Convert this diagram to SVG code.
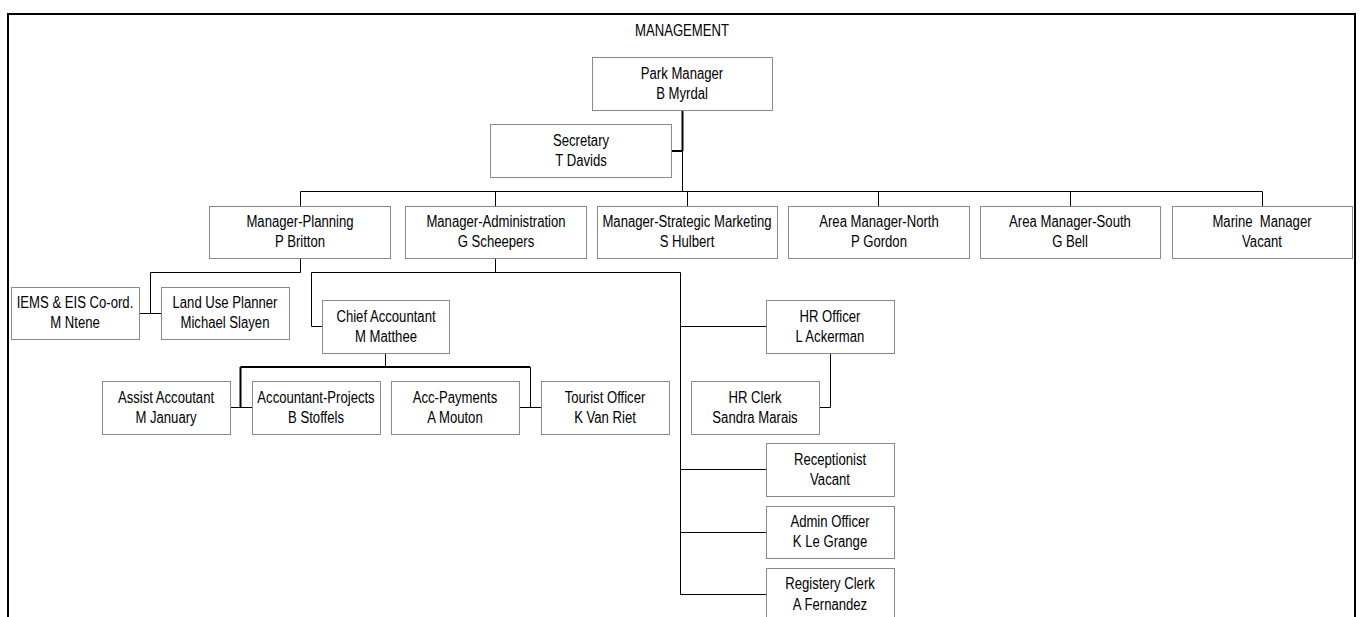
<svg xmlns="http://www.w3.org/2000/svg" width="1361" height="617" viewBox="0 0 1361 617">
<style>
.box{fill:#fff;stroke:#8a8a8a;stroke-width:1}
.t{font-family:"Liberation Sans",Arial,sans-serif;font-size:16px;fill:#000;text-anchor:middle}
.c{fill:none;stroke:#000;stroke-width:1}
.c2{fill:none;stroke:#000;stroke-width:2}
</style>
<rect x="0" y="0" width="1361" height="617" fill="#fff"/>
<rect x="8" y="14" width="1347" height="620" fill="none" stroke="#000" stroke-width="2"/>
<text class="t" transform="translate(682,36) scale(0.82,1)">MANAGEMENT</text>

<g id="connectors">
<path class="c2" d="M682.5,110 V151"/>
<path class="c" d="M682.5,151 V191.5"/>
<path class="c2" stroke="#333" d="M671,151 H682.5"/>
<path class="c" d="M300.5,191.5 H1262.5 M300.5,191.5 V206 M495.5,191.5 V206 M687.5,191.5 V206 M878.5,191.5 V206 M1070.5,191.5 V206 M1262.5,191.5 V206"/>
<path class="c" d="M300.5,258 V272.5 H150.5 V313.5 M139,313.5 H161"/>
<path class="c" d="M495.5,258 V272.5 M311.5,272.5 H680.5 M311.5,272.5 V326.5 H322 M680.5,272.5 V594.5 M680.5,326.5 H766 M680.5,469.5 H766 M680.5,532.5 H766 M680.5,594.5 H766"/>
<path class="c" d="M830.5,353 V407.5 H819"/>
<path class="c" d="M385.5,353 V367"/>
<path class="c2" d="M240.5,367 H530 M240.5,367 V407.5"/>
<path class="c" d="M530.5,367 V407.5 M230,407.5 H252 M519,407.5 H541"/>
</g>

<g id="park-manager"><rect class="box" x="592.5" y="57.5" width="180" height="53"/><text class="t" transform="translate(682,84) scale(0.82,1)"><tspan x="0" y="-5.3">Park Manager</tspan><tspan x="0" y="15.3">B Myrdal</tspan></text></g>
<g id="secretary"><rect class="box" x="490.5" y="124.5" width="181" height="53"/><text class="t" transform="translate(581,151) scale(0.82,1)"><tspan x="0" y="-5.3">Secretary</tspan><tspan x="0" y="15.3">T Davids</tspan></text></g>
<g id="manager-planning"><rect class="box" x="209.5" y="206.5" width="181" height="52"/><text class="t" transform="translate(300,232) scale(0.82,1)"><tspan x="0" y="-5.3">Manager-Planning</tspan><tspan x="0" y="15.3">P Britton</tspan></text></g>
<g id="manager-administration"><rect class="box" x="405.5" y="206.5" width="181" height="52"/><text class="t" transform="translate(496,232) scale(0.82,1)"><tspan x="0" y="-5.3">Manager-Administration</tspan><tspan x="0" y="15.3">G Scheepers</tspan></text></g>
<g id="manager-strategic-marketing"><rect class="box" x="597.5" y="206.5" width="180" height="52"/><text class="t" transform="translate(687,232) scale(0.82,1)"><tspan x="0" y="-5.3">Manager-Strategic Marketing</tspan><tspan x="0" y="15.3">S Hulbert</tspan></text></g>
<g id="area-manager-north"><rect class="box" x="788.5" y="206.5" width="181" height="52"/><text class="t" transform="translate(879,232) scale(0.82,1)"><tspan x="0" y="-5.3">Area Manager-North</tspan><tspan x="0" y="15.3">P Gordon</tspan></text></g>
<g id="area-manager-south"><rect class="box" x="980.5" y="206.5" width="180" height="52"/><text class="t" transform="translate(1070,232) scale(0.82,1)"><tspan x="0" y="-5.3">Area Manager-South</tspan><tspan x="0" y="15.3">G Bell</tspan></text></g>
<g id="marine-manager"><rect class="box" x="1172.5" y="206.5" width="180" height="52"/><text class="t" xml:space="preserve" transform="translate(1262,232) scale(0.82,1)"><tspan x="0" y="-5.3">Marine  Manager</tspan><tspan x="0" y="15.3">Vacant</tspan></text></g>
<g id="iems-eis"><rect class="box" x="11.5" y="287.5" width="128" height="52"/><text class="t" transform="translate(75,313) scale(0.82,1)"><tspan x="0" y="-5.3">IEMS &amp; EIS Co-ord.</tspan><tspan x="0" y="15.3">M Ntene</tspan></text></g>
<g id="land-use-planner"><rect class="box" x="161.5" y="287.5" width="128" height="52"/><text class="t" transform="translate(225,313) scale(0.82,1)"><tspan x="0" y="-5.3">Land Use Planner</tspan><tspan x="0" y="15.3">Michael Slayen</tspan></text></g>
<g id="chief-accountant"><rect class="box" x="322.5" y="300.5" width="127" height="53"/><text class="t" transform="translate(386,327) scale(0.82,1)"><tspan x="0" y="-5.3">Chief Accountant</tspan><tspan x="0" y="15.3">M Matthee</tspan></text></g>
<g id="hr-officer"><rect class="box" x="766.5" y="300.5" width="128" height="53"/><text class="t" transform="translate(830,327) scale(0.82,1)"><tspan x="0" y="-5.3">HR Officer</tspan><tspan x="0" y="15.3">L Ackerman</tspan></text></g>
<g id="hr-clerk"><rect class="box" x="691.5" y="381.5" width="128" height="53"/><text class="t" transform="translate(755,408) scale(0.82,1)"><tspan x="0" y="-5.3">HR Clerk</tspan><tspan x="0" y="15.3">Sandra Marais</tspan></text></g>
<g id="assist-accoutant"><rect class="box" x="102.5" y="381.5" width="128" height="53"/><text class="t" transform="translate(166,408) scale(0.82,1)"><tspan x="0" y="-5.3">Assist Accoutant</tspan><tspan x="0" y="15.3">M January</tspan></text></g>
<g id="accountant-projects"><rect class="box" x="252.5" y="381.5" width="128" height="53"/><text class="t" transform="translate(316,408) scale(0.82,1)"><tspan x="0" y="-5.3">Accountant-Projects</tspan><tspan x="0" y="15.3">B Stoffels</tspan></text></g>
<g id="acc-payments"><rect class="box" x="391.5" y="381.5" width="128" height="53"/><text class="t" transform="translate(455,408) scale(0.82,1)"><tspan x="0" y="-5.3">Acc-Payments</tspan><tspan x="0" y="15.3">A Mouton</tspan></text></g>
<g id="tourist-officer"><rect class="box" x="541.5" y="381.5" width="128" height="53"/><text class="t" transform="translate(605,408) scale(0.82,1)"><tspan x="0" y="-5.3">Tourist Officer</tspan><tspan x="0" y="15.3">K Van Riet</tspan></text></g>
<g id="receptionist"><rect class="box" x="766.5" y="443.5" width="128" height="53"/><text class="t" transform="translate(830,470) scale(0.82,1)"><tspan x="0" y="-5.3">Receptionist</tspan><tspan x="0" y="15.3">Vacant</tspan></text></g>
<g id="admin-officer"><rect class="box" x="766.5" y="506.5" width="128" height="52"/><text class="t" transform="translate(830,532) scale(0.82,1)"><tspan x="0" y="-5.3">Admin Officer</tspan><tspan x="0" y="15.3">K Le Grange</tspan></text></g>
<g id="registery-clerk"><rect class="box" x="766.5" y="568.5" width="128" height="53"/><text class="t" transform="translate(830,594.5) scale(0.82,1)"><tspan x="0" y="-5.3">Registery Clerk</tspan><tspan x="0" y="15.3">A Fernandez</tspan></text></g>
</svg>
